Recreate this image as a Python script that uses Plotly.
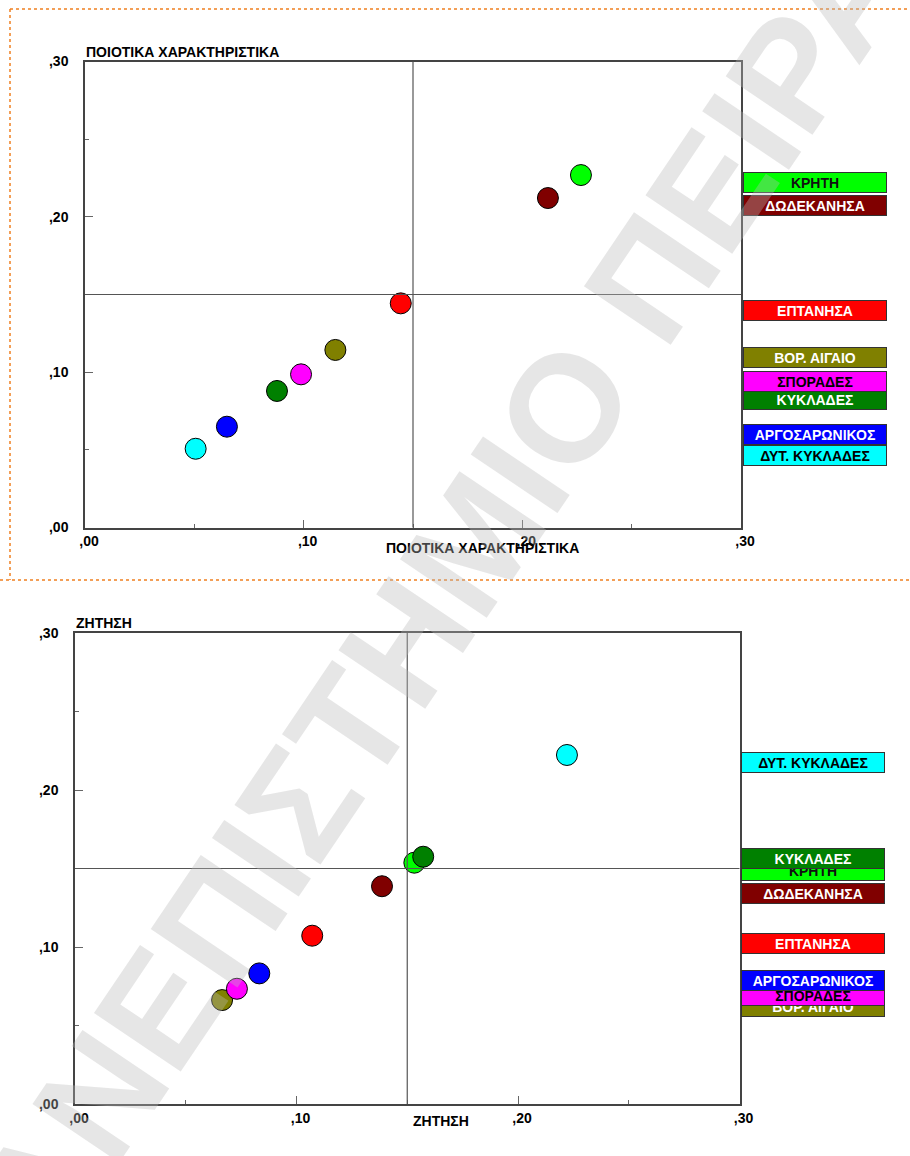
import plotly.graph_objects as go

# ---------------- data ----------------
regions = ["ΚΡΗΤΗ", "ΔΩΔΕΚΑΝΗΣΑ", "ΕΠΤΑΝΗΣΑ", "ΒΟΡ. ΑΙΓΑΙΟ", "ΣΠΟΡΑΔΕΣ",
           "ΚΥΚΛΑΔΕΣ", "ΑΡΓΟΣΑΡΩΝΙΚΟΣ", "ΔΥΤ. ΚΥΚΛΑΔΕΣ"]
colors = ["#00FF00", "#800000", "#FF0000", "#808000", "#FF00FF",
          "#008000", "#0000FF", "#00FFFF"]
text_colors = ["#111111", "#FFFFFF", "#FFFFFF", "#FFFFFF", "#000000",
               "#FFFFFF", "#FFFFFF", "#000000"]

# chart 1: ΠΟΙΟΤΙΚΑ ΧΑΡΑΚΤΗΡΙΣΤΙΚΑ
q_x = [0.2268, 0.2117, 0.1444, 0.1145, 0.0988, 0.0878, 0.0649, 0.0506]
q_y = [0.2269, 0.2121, 0.1443, 0.1143, 0.0986, 0.0879, 0.0649, 0.0507]
q_label_y = [0.2221, 0.2073, 0.1397, 0.1093, 0.0943, 0.0827, 0.0600, 0.0462]

# chart 2: ΖΗΤΗΣΗ
d_x = [0.1532, 0.1386, 0.1071, 0.0664, 0.0731, 0.1572, 0.0832, 0.2221]
d_y = [0.1537, 0.1387, 0.1072, 0.0662, 0.0734, 0.1575, 0.0832, 0.2223]
d_label_y = [0.1487, 0.1339, 0.1025, 0.0618, 0.0691, 0.1564, 0.0787, 0.2174]

ref_q = 0.15
ref_d = 0.15

tick_vals = [0.0, 0.1, 0.2, 0.3]
tick_text = [",00", ",10", ",20", ",30"]

title_q = "ΠΟΙΟΤΙΚΑ ΧΑΡΑΚΤΗΡΙΣΤΙΚΑ"
title_d = "ΖΗΤΗΣΗ"
watermark = "ΠΑΝΕΠΙΣΤΗΜΙΟ ΠΕΙΡΑΙΩΣ"

# ---------------- layout helpers ----------------
W, H = 910, 1156
FONT = "Liberation Sans, Arial, sans-serif"


def px(x):
    return x / W


def py(y):
    return 1 - y / H


fig = go.Figure()

for xs, ys, xa, ya in [(q_x, q_y, "x", "y"), (d_x, d_y, "x2", "y2")]:
    for i in range(len(regions)):
        fig.add_trace(go.Scatter(
            x=[xs[i]], y=[ys[i]], mode="markers", name=regions[i],
            xaxis=xa, yaxis=ya, showlegend=False,
            marker=dict(size=21, color=colors[i],
                        line=dict(color="#000000", width=1)),
        ))

axis_common = dict(
    range=[0, 0.3], tickvals=tick_vals, ticktext=tick_text,
    showgrid=False, zeroline=False, showline=True, mirror=True,
    linecolor="#444444", linewidth=1.5,
    ticks="inside", ticklen=8, tickcolor="#666666", tickwidth=1,
    minor=dict(dtick=0.05, ticks="inside", ticklen=4, tickcolor="#666666"),
    tickfont=dict(family=FONT, size=14, color="#000000", weight="bold"),
    automargin=False,
)

fig.update_layout(
    width=W, height=H,
    margin=dict(l=0, r=0, t=0, b=0, pad=0, autoexpand=False),
    paper_bgcolor="white", plot_bgcolor="white",
    xaxis=dict(domain=[px(85), px(741)], anchor="y", ticklabelshift=4,
               ticklabelstandoff=0, **axis_common),
    yaxis=dict(domain=[py(527.5), py(61.5)], anchor="x",
               ticklabelstandoff=12, **axis_common),
    xaxis2=dict(domain=[px(75), px(739.5)], anchor="y2", ticklabelshift=4,
                ticklabelstandoff=0, **axis_common),
    yaxis2=dict(domain=[py(1104), py(633)], anchor="x2",
                ticklabelstandoff=12, **axis_common),
)

# reference lines
for xr, yr, val_x, val_y in [("x", "y", ref_q, ref_q), ("x2", "y2", ref_d, ref_d)]:
    fig.add_shape(type="line", xref=xr, yref=yr + " domain", x0=val_x, x1=val_x,
                  y0=0, y1=1, line=dict(color="#555555", width=1.2))
    fig.add_shape(type="line", xref=xr + " domain", yref=yr, x0=0, x1=1,
                  y0=val_y, y1=val_y, line=dict(color="#555555", width=1.2))

# orange dotted panel borders
border = dict(color="#F08020", width=1.5, dash="dot")
fig.add_shape(type="line", xref="paper", yref="paper", x0=px(10), x1=1,
              y0=py(9), y1=py(9), line=border)
fig.add_shape(type="line", xref="paper", yref="paper", x0=px(10), x1=px(10),
              y0=py(9), y1=py(580), line=border)
fig.add_shape(type="line", xref="paper", yref="paper", x0=0, x1=1,
              y0=py(580), y1=py(580), line=border)

title_font = dict(family=FONT, size=14, color="#000000", weight="bold")

# axis titles
fig.add_annotation(text=title_q, xref="paper", yref="paper", x=px(85), y=py(61),
                   xanchor="left", yanchor="bottom", showarrow=False,
                   font=title_font, borderpad=0)
fig.add_annotation(text=title_q, xref="paper", yref="paper", x=px(482), y=py(548),
                   xanchor="center", yanchor="middle", showarrow=False,
                   font=title_font)
fig.add_annotation(text=title_d, xref="paper", yref="paper", x=px(75), y=py(632),
                   xanchor="left", yanchor="bottom", showarrow=False,
                   font=title_font, borderpad=0)
fig.add_annotation(text=title_d, xref="paper", yref="paper", x=px(441), y=py(1121),
                   xanchor="center", yanchor="middle", showarrow=False,
                   font=title_font)

# region label boxes (drawn in order of increasing y so upper ones overlap)
label_font_size = 14
for ly, yref, x_left in [(q_label_y, "y", 743), (d_label_y, "y2", 741)]:
    order = sorted(range(len(regions)), key=lambda i: ly[i])
    for i in order:
        fig.add_annotation(
            text=regions[i], xref="paper", yref=yref, x=px(x_left), y=ly[i],
            xanchor="left", yanchor="middle", showarrow=False,
            width=140, height=17, align="center", valign="middle",
            bgcolor=colors[i], bordercolor="#333333", borderwidth=1, borderpad=1,
            font=dict(family=FONT, size=label_font_size, color=text_colors[i],
                      weight="bold"),
        )

# watermark
fig.add_annotation(text=watermark, xref="paper", yref="paper",
                   x=px(482), y=py(530), xanchor="center", yanchor="middle",
                   showarrow=False, textangle=-56,
                   font=dict(family=FONT, size=152, color="rgba(185,185,185,0.36)",
                             weight="bold"))

post = (
    "document.documentElement.style.margin='0';"
    "document.documentElement.style.padding='0';"
    "document.documentElement.style.overflow='hidden';"
    "document.body.style.margin='0';"
    "document.body.style.padding='0';"
    "document.body.style.overflow='hidden';"
    "var gd=document.getElementsByClassName('plotly-graph-div')[0];"
    "gd.style.position='fixed';gd.style.left='0px';gd.style.top='0px';"
)

fig.write_html("out.html", config={"displayModeBar": False}, post_script=post)
